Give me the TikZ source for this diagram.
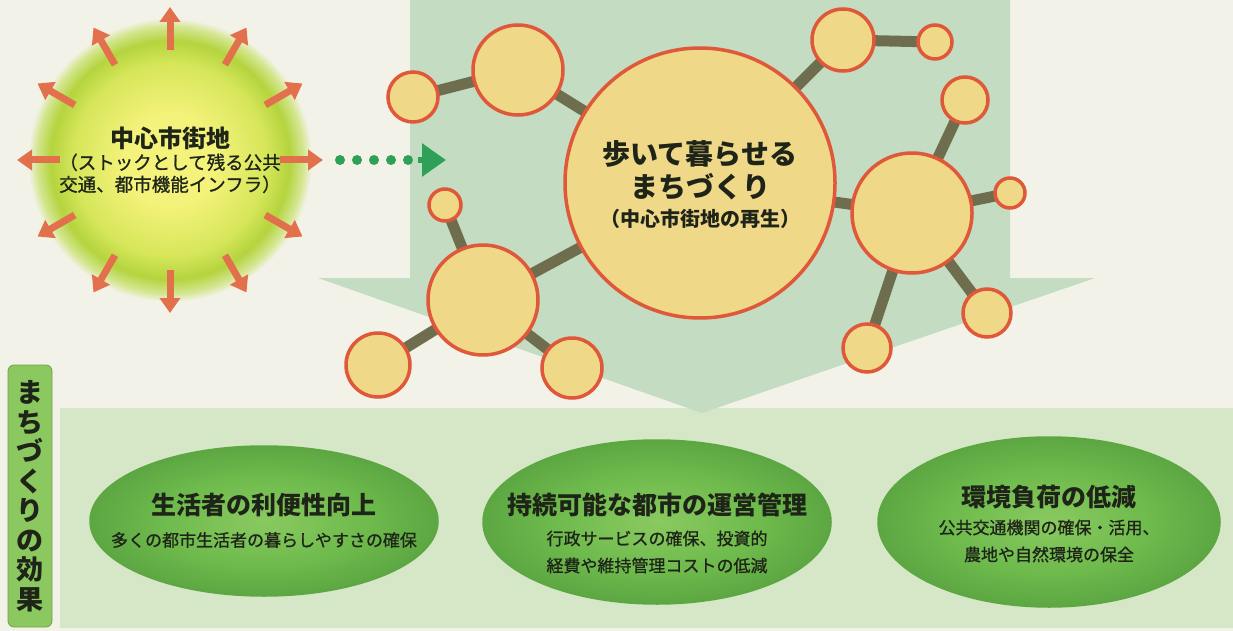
\documentclass[tikz,border=0pt]{standalone}
\usepackage{fontspec}
\newfontfamily\cjk{Noto Sans CJK JP}
\newfontfamily\cjkm{Noto Sans CJK JP}[FakeBold=0.9]
\usetikzlibrary{shapes.geometric,arrows.meta}
\pgfdeclarelayer{back}\pgfdeclarelayer{mid}\pgfsetlayers{back,mid,main}
\definecolor{bg}{HTML}{F3F2E8}
\definecolor{suny}{HTML}{F4F27A}
\definecolor{sunm}{HTML}{D6E65A}
\definecolor{sung}{HTML}{B4D43E}
\definecolor{sune}{HTML}{D4E690}
\definecolor{sunarr}{HTML}{E2704C}
\definecolor{dotg}{HTML}{2FA058}
\definecolor{bigarr}{HTML}{C3DCC2}
\definecolor{band}{HTML}{D5E7C7}
\definecolor{bubfill}{HTML}{EFD888}
\definecolor{bubdraw}{HTML}{E0583A}
\definecolor{link}{HTML}{6E6E4E}
\definecolor{ellfill}{HTML}{6EBA4C}
\definecolor{ellin}{HTML}{8ACA60}
\definecolor{elldraw}{HTML}{5CA742}
\definecolor{labfill}{HTML}{8CC860}
\definecolor{txt}{HTML}{1E2418}
\pgfdeclareradialshading{sunshade}{\pgfpoint{0bp}{0bp}}{color(0bp)=(suny);color(8bp)=(suny);color(17bp)=(sunm);color(21bp)=(sung);color(23.5bp)=(sune);color(25bp)=(bg);color(50bp)=(bg)}
\pgfdeclareradialshading{ellshade}{\pgfpoint{0bp}{0bp}}{color(0bp)=(ellin);color(15bp)=(ellfill);color(25bp)=(elldraw);color(50bp)=(elldraw)}
\begin{document}
\begin{tikzpicture}[x=1pt,y=-1pt,
  bub/.style={circle,inner sep=0pt,fill=bubfill,draw=bubdraw,line width=3.5pt},
  conn/.style={draw=link,line width=11pt},
  sunarrow/.style={draw=sunarr,line width=7pt,-{Triangle[width=20pt,length=15pt]}},
  eff/.style={ellipse,inner sep=0pt,shade,shading=ellshade,draw=elldraw,line width=1.5pt,text=txt,align=center},
  ttl/.style={font=\cjk\bfseries\fontsize{25}{30}\selectfont},
  sub/.style={font=\cjkm\fontsize{17}{27}\selectfont}
]
\useasboundingbox (0,0) rectangle (1233,631);
% background, band and big arrow
\begin{pgfonlayer}{back}
\fill[bg] (0,0) rectangle (1233,631);
\fill[band] (60,408) rectangle (1233,628);
\fill[bigarr] (410,0) -- (1010,0) -- (1010,278) -- (1095,278) -- (702,413) -- (318,278) -- (410,278) -- cycle;
\end{pgfonlayer}
% sun
\node[circle,minimum size=284pt,inner sep=0pt,shade,shading=sunshade] (sun) at (170,160) {};
\foreach \a in {0,30,...,330}
  \draw[sunarrow] ([shift={(\a:110)}]sun.center) -- ([shift={(\a:153)}]sun.center);
\node[text=txt,align=center,font=\cjkm\fontsize{18.5}{22}\selectfont] (suntxt) at (170,160)
  {{\cjk\bfseries\fontsize{24}{26}\selectfont 中心市街地}\\（ストックとして残る公共\\交通、都市機能インフラ）};
% dotted arrow
\foreach \x in {340,357,374,391,408} \fill[dotg] (\x,160) circle (5pt);
\coordinate (hs) at (418,160);
\coordinate (he) at (446,160);
\draw[dotg,line width=6pt,-{Triangle[width=32pt,length=24pt]}] (hs) -- (he);
% bubbles
\node[bub,minimum size=270pt] (big) at (700,183) {};
\node[bub,minimum size=90pt] (ul) at (518,70) {};
\node[bub,minimum size=50pt] (l1) at (413,97) {};
\node[bub,minimum size=62pt] (ur) at (843,40) {};
\node[bub,minimum size=34pt] (ur2) at (935,42) {};
\node[bub,minimum size=120pt] (rm) at (912,213) {};
\node[bub,minimum size=46pt] (r1) at (965,100) {};
\node[bub,minimum size=30pt] (r2) at (1010,193) {};
\node[bub,minimum size=48pt] (r3) at (987,313) {};
\node[bub,minimum size=48pt] (r4) at (867,348) {};
\node[bub,minimum size=110pt] (lm) at (483,300) {};
\node[bub,minimum size=32pt] (l2) at (445,205) {};
\node[bub,minimum size=64pt] (l3) at (378,365) {};
\node[bub,minimum size=60pt] (l4) at (572,368) {};
\begin{pgfonlayer}{mid}
\draw[conn] (big.center) -- (ul.center);
\draw[conn] (ul.center) -- (l1.center);
\draw[conn] (big.center) -- (ur.center);
\draw[conn] (ur.center) -- (ur2.center);
\draw[conn] (big.center) -- (rm.center);
\draw[conn] (rm.center) -- (r1.center);
\draw[conn] (rm.center) -- (r2.center);
\draw[conn] (rm.center) -- (r3.center);
\draw[conn] (rm.center) -- (r4.center);
\draw[conn] (big.center) -- (lm.center);
\draw[conn] (lm.center) -- (l2.center);
\draw[conn] (lm.center) -- (l3.center);
\draw[conn] (lm.center) -- (l4.center);
\end{pgfonlayer}
\node[text=txt,align=center,font=\cjk\bfseries\fontsize{28}{33}\selectfont] (bigtxt) at (700,185)
  {歩いて暮らせる\\まちづくり\\[-4pt]{\fontsize{20}{24}\selectfont （中心市街地の再生）}};
% label
\node[draw=labfill!80!black,line width=0.8pt,fill=labfill,rounded corners=6pt,minimum width=44pt,minimum height=262pt,inner sep=0pt] (lab) at (30,496) {};
\node[text=txt,align=center,font=\cjk\bfseries\fontsize{27}{29.5}\selectfont] (labtxt) at (lab.center) {ま\\ち\\づ\\く\\り\\の\\効\\果};
% effect ellipses
\node[eff,minimum width=348pt,minimum height=150pt] (e1) at (264,521) {};
\node[eff,minimum width=348pt,minimum height=164pt] (e2) at (657,522) {};
\node[eff,minimum width=342pt,minimum height=170pt] (e3) at (1049,522) {};
\node[ttl,text=txt] (e1t) at (264,505) {生活者の利便性向上};
\node[sub,text=txt] (e1s) at (264,540) {多くの都市生活者の暮らしやすさの確保};
\node[ttl,text=txt] (e2t) at (657,505) {持続可能な都市の運営管理};
\node[sub,text=txt,align=center] (e2s) at (657,552) {行政サービスの確保、投資的\\経費や維持管理コストの低減};
\node[ttl,text=txt] (e3t) at (1049,497) {環境負荷の低減};
\node[sub,text=txt,align=center] (e3s) at (1049,541) {公共交通機関の確保・活用、\\農地や自然環境の保全};
\end{tikzpicture}
\end{document}
